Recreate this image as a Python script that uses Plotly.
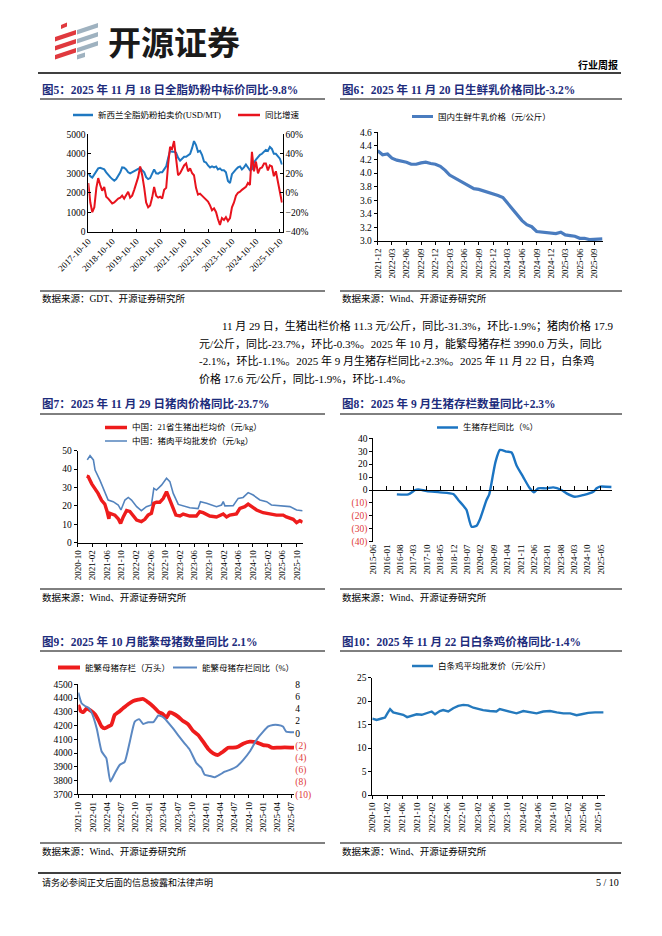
import plotly.graph_objects as go
import pandas as pd

W, H = 662, 936
def px(x): return x / W
def py(y): return 1 - y / H

SERIF = "Liberation Serif, Noto Sans CJK SC"
CJK = "Noto Sans CJK SC, Liberation Serif"
NAVY = "#1d2c7c"
NEG = "#e03a3a"

# ---------------- Figure 5 data: GDT whole milk powder ----------------
f5_dates = pd.date_range("2017-10-01", periods=98, freq="MS") + pd.Timedelta(days=9)
f5_price = [3000,2850,2780,2950,3150,3250,3280,3250,3200,3050,
            2950,2800,2700,2620,2700,2850,3050,3300,3280,3200,
            3050,3000,3050,3100,3150,3200,3280,3150,3050,2800,
            2700,2750,2950,3200,3000,2980,3050,3050,3200,3350,
            3800,4150,4100,4100,4050,3800,3650,3750,3850,3850,
            3950,4000,4300,4650,4450,4100,4150,3950,3600,3550,
            3400,3300,3350,3300,3350,3200,3250,3150,3150,3050,
            2600,2500,2950,3100,3200,3300,3350,3200,3300,3450,
            3300,3150,3200,3550,3700,3850,3950,4000,4100,4200,
            4150,4350,4250,4000,4000,3900,3750,3450]
f5_yoy = [10,-10,-20,-15,5,15,8,2,6,-4,
          -6,-8,-11,-10,-8,-6,-5,-3,-6,-2,
          1,-5,-3,3,10,16,27,18,5,-10,
          -15,-13,-5,6,-3,-5,-4,-6,3,5,
          30,47,45,53,35,18,20,25,28,30,
          22,25,20,18,5,-2,-1,-3,-5,-6,
          -9,-13,-18,-16,-20,-27,-33,-26,-28,-25,
          -29,-26,-15,-10,-3,0,1,3,5,6,
          10,8,42,22,32,20,25,26,30,30,
          23,28,27,17,22,10,-2,-10]

# ---------------- Figure 6 data: raw milk price ----------------
f6_dates = list(pd.date_range("2021-12-01", "2025-10-01", freq="MS").strftime("%Y-%m-%d")) + ["2025-10-22"]
f6_milk = [4.33,
           4.27,4.28,4.22,4.19,4.18,4.16,4.13,4.13,4.15,4.16,4.14,4.13,
           4.10,4.04,3.97,3.93,3.88,3.85,3.80,3.77,3.76,3.74,3.72,3.69,
           3.67,3.64,3.56,3.46,3.38,3.30,3.24,3.21,3.14,3.13,3.12,3.11,
           3.11,3.13,3.09,3.08,3.07,3.04,3.04,3.02,3.02,3.03,
           3.03]

# ---------------- Figure 7 data: hog & pork prices ----------------
f7_hog_dates = ["2020-12-15","2020-12-28","2021-01-26","2021-02-23","2021-03-20","2021-04-18","2021-05-15",
                "2021-06-04","2021-06-18","2021-06-26","2021-08-07","2021-09-04","2021-09-24","2021-10-16",
                "2021-11-13","2021-12-10","2022-01-08","2022-02-05","2022-03-16","2022-04-14","2022-05-11",
                "2022-06-08","2022-06-28","2022-07-20","2022-08-17","2022-09-14","2022-10-12","2022-11-09",
                "2022-12-07","2022-12-29","2023-02-01","2023-02-28","2023-04-24","2023-06-18","2023-07-16",
                "2023-08-13","2023-10-08","2023-12-03","2024-01-28","2024-02-25","2024-03-23","2024-05-17",
                "2024-06-15","2024-07-26","2024-08-23","2024-09-20","2024-11-01","2024-12-26","2025-02-21",
                "2025-04-16","2025-06-11","2025-07-08","2025-09-03","2025-10-01","2025-10-28","2025-11-20"]
f7_hog = [36.2,35.9,32.0,29.5,26.8,23.0,21.0,
          16.8,13.0,16.0,15.0,13.0,10.5,14.0,
          17.5,17.0,14.5,12.3,11.4,12.7,15.0,
          16.0,21.4,22.0,22.0,24.0,27.7,23.0,
          17.8,15.0,14.5,15.6,14.5,14.5,16.8,
          16.3,14.5,14.0,15.6,14.0,15.0,15.6,
          18.7,19.6,21.0,19.6,17.8,16.3,15.6,
          15.0,15.0,14.0,12.7,10.9,12.0,11.1]
f7_pork_dates = ["2020-12-20","2021-01-12","2021-02-09","2021-02-23","2021-04-04","2021-05-15","2021-06-12",
                 "2021-07-24","2021-09-04","2021-09-27","2021-10-30","2021-11-27","2021-12-24","2022-02-05",
                 "2022-03-16","2022-04-27","2022-06-08","2022-06-28","2022-07-20","2022-08-31","2022-10-12",
                 "2022-11-09","2022-12-07","2023-01-18","2023-02-28","2023-04-24","2023-07-02","2023-07-22",
                 "2023-09-11","2023-12-03","2024-01-14","2024-01-28","2024-02-11","2024-04-20","2024-06-01",
                 "2024-07-12","2024-08-23","2024-10-04","2024-11-29","2025-01-24","2025-03-05","2025-06-11",
                 "2025-08-06","2025-10-01","2025-11-20"]
f7_pork = [45.0,47.3,45.0,39.5,34.0,27.7,23.2,
           22.3,20.5,17.8,23.2,24.6,23.2,19.6,
           17.4,19.6,20.5,29.5,28.6,31.3,35.0,
           33.2,26.8,20.8,20.1,19.0,18.5,22.3,
           21.4,19.6,20.5,22.3,20.0,20.1,24.1,
           24.6,27.2,25.9,23.2,22.3,20.5,20.0,
           19.6,17.8,17.4]

# ---------------- Figure 8 data: hog inventory yoy ----------------
f8_dates = ["2016-06-10","2016-12-10","2017-03-28","2017-05-15","2017-09-27","2018-04-25","2018-11-25",
            "2019-02-12","2019-05-01","2019-06-24","2019-09-12","2019-12-01","2020-01-20","2020-05-07",
            "2020-06-19","2020-08-22","2020-09-28","2020-12-07","2021-03-25","2021-06-10","2021-08-28",
            "2021-12-12","2022-03-27","2022-06-01","2022-08-07","2022-12-18","2023-04-03","2023-08-13",
            "2023-11-01","2024-03-12","2024-07-24","2025-01-01","2025-02-22","2025-04-15","2025-10-18"]
f8_yoy = [-3.4,-3.4,0.0,0.5,-0.8,-1.8,-3.1,
          -7.7,-12.0,-15.5,-28.4,-27.6,-23.0,-7.7,
          -3.4,13.0,22.0,31.0,29.7,29.0,19.0,
          10.0,1.3,-1.8,1.3,1.3,2.0,0.0,
          -2.6,-5.2,-3.9,-1.3,1.3,2.6,2.3]
f8_ticks = [40, 30, 20, 10, 0, -10, -20, -30, -40]
f8_ticktext = ["40", "30", "20", "10", "0",
               f'<span style="color:{NEG}">(10)</span>', f'<span style="color:{NEG}">(20)</span>',
               f'<span style="color:{NEG}">(30)</span>', f'<span style="color:{NEG}">(40)</span>']

# ---------------- Figure 9 data: breeding sows ----------------
f9_sow_dates = ["2021-10-01","2021-10-16","2021-11-02","2021-11-24","2021-12-15","2022-01-17","2022-02-07",
                "2022-02-28","2022-03-20","2022-04-10","2022-05-01","2022-05-23","2022-06-14","2022-07-15",
                "2022-08-17","2022-09-19","2022-10-21","2022-11-22","2022-12-24","2023-01-26","2023-02-27",
                "2023-03-29","2023-04-20","2023-05-11","2023-06-02","2023-07-04","2023-08-05","2023-09-07",
                "2023-10-09","2023-11-10","2023-12-12","2024-01-14","2024-02-15","2024-03-17","2024-04-18",
                "2024-05-20","2024-06-21","2024-07-23","2024-08-25","2024-10-07","2024-11-19","2025-01-01",
                "2025-02-03","2025-02-24","2025-04-06","2025-05-19","2025-07-18"]
f9_sow = [4350,4306,4297,4325,4312,4280,4240,
          4192,4180,4192,4204,4277,4296,4325,
          4355,4379,4388,4393,4369,4338,4301,
          4282,4257,4296,4288,4265,4233,4209,
          4160,4131,4083,4030,3998,3986,4010,
          4039,4039,4046,4068,4083,4078,4058,
          4053,4039,4039,4041,4039]
f9_yoy_dates = ["2021-10-01","2021-10-22","2021-11-13","2021-12-04","2021-12-25","2022-01-27","2022-02-28",
                "2022-03-30","2022-04-25","2022-05-23","2022-06-24","2022-07-26","2022-08-28","2022-09-29",
                "2022-10-27","2022-11-22","2022-12-24","2023-01-26","2023-02-27","2023-03-18","2023-04-09",
                "2023-05-22","2023-07-04","2023-08-16","2023-09-17","2023-10-30","2023-12-01","2023-12-22",
                "2024-01-24","2024-02-25","2024-03-28","2024-04-29","2024-06-01","2024-07-13","2024-08-25",
                "2024-10-07","2024-11-19","2025-01-01","2025-02-03","2025-03-05","2025-04-06","2025-05-08",
                "2025-05-29","2025-07-18"]
f9_yoy = [6.64,4.9,4.45,4.2,3.4,0.8,-3.0,
          -4.1,-7.9,-6.6,-5.2,-4.7,-1.4,1.9,
          2.3,1.5,1.8,1.8,2.9,2.8,2.4,
          1.1,-0.3,-1.7,-2.7,-4.9,-5.7,-6.8,
          -7.0,-7.2,-6.8,-6.3,-6.0,-5.5,-4.4,
          -3.0,-1.1,0.25,1.1,1.35,1.35,1.1,
          0.25,0.15]
f9_rticks = [8, 6, 4, 2, 0, -2, -4, -6, -8, -10]
f9_rtext = ["8", "6", "4", "2", "0"] + [f'<span style="color:{NEG}">({abs(v)})</span>' for v in f9_rticks[5:]]

# ---------------- Figure 10 data: white-strip chicken ----------------
f10_dates = ["2020-10-01","2020-11-05","2020-12-15","2021-01-12","2021-01-31","2021-02-22","2021-03-19",
             "2021-04-29","2021-06-08","2021-07-10","2021-08-15","2021-09-25","2021-11-05","2021-12-15",
             "2022-01-25","2022-02-21","2022-04-01","2022-04-28","2022-06-08","2022-07-18","2022-08-28",
             "2022-10-08","2022-11-17","2022-12-28","2023-02-07","2023-03-17","2023-05-10","2023-07-03",
             "2023-07-30","2023-09-10","2023-11-03","2023-12-13","2024-02-06","2024-03-30","2024-05-23",
             "2024-07-16","2024-09-09","2024-11-02","2024-12-26","2025-02-19","2025-04-12","2025-05-22",
             "2025-07-15","2025-09-08","2025-11-15"]
f10_chicken = [16.3,16.0,16.3,16.5,17.4,18.3,17.6,
               17.3,17.1,16.6,16.9,17.2,17.1,17.5,
               17.8,17.2,17.9,18.1,17.8,18.5,19.0,
               19.2,19.1,18.6,18.3,18.1,17.9,17.8,
               18.3,18.0,17.6,17.4,17.9,17.6,17.4,
               17.8,17.9,17.6,17.4,17.4,17.0,17.2,
               17.5,17.6,17.6]

# ---------------- colours ----------------
C5_BLUE, C5_RED = "#1f78c1", "#e8131d"
C6_BLUE = "#4a7cbf"
C7_RED, C7_BLUE = "#ee1c1c", "#5383bd"
C8_BLUE = "#1b74c2"
C9_RED, C9_BLUE = "#ee1c1c", "#5b88c2"
C10_BLUE = "#2479bd"

fig = go.Figure()
fig.add_trace(go.Scatter(x=f5_dates, y=f5_price, xaxis="x", yaxis="y", mode="lines",
                         line=dict(color=C5_BLUE, width=2)))
fig.add_trace(go.Scatter(x=f5_dates, y=f5_yoy, xaxis="x", yaxis="y2", mode="lines",
                         line=dict(color=C5_RED, width=2)))
fig.add_trace(go.Scatter(x=f6_dates, y=f6_milk, xaxis="x2", yaxis="y3", mode="lines",
                         line=dict(color=C6_BLUE, width=3.2)))
fig.add_trace(go.Scatter(x=f7_pork_dates, y=f7_pork, xaxis="x3", yaxis="y4", mode="lines",
                         line=dict(color=C7_BLUE, width=1.6)))
fig.add_trace(go.Scatter(x=f7_hog_dates, y=f7_hog, xaxis="x3", yaxis="y4", mode="lines",
                         line=dict(color=C7_RED, width=3.4)))
fig.add_trace(go.Scatter(x=f8_dates, y=f8_yoy, xaxis="x4", yaxis="y5", mode="lines",
                         line=dict(color=C8_BLUE, width=2.4, shape="spline", smoothing=0.6)))
fig.add_trace(go.Scatter(x=[f8_dates[0]], y=[0], xaxis="x5", yaxis="y5", mode="lines",
                         line=dict(width=0), hoverinfo="skip"))
fig.add_trace(go.Scatter(x=f9_sow_dates, y=f9_sow, xaxis="x6", yaxis="y6", mode="lines",
                         line=dict(color=C9_RED, width=3.8, shape="spline", smoothing=0.5)))
fig.add_trace(go.Scatter(x=f9_yoy_dates, y=f9_yoy, xaxis="x6", yaxis="y7", mode="lines",
                         line=dict(color=C9_BLUE, width=2, shape="spline", smoothing=0.5)))
fig.add_trace(go.Scatter(x=f10_dates, y=f10_chicken, xaxis="x7", yaxis="y8", mode="lines",
                         line=dict(color=C10_BLUE, width=2.4)))

TICKFONT = dict(family=SERIF, size=9.5, color="black")
XFONT = dict(family=SERIF, size=9, color="black")

def xax(x0, x1, anchor, rng, tick0, dtick, fmt, angle, ticks="outside", **kw):
    d = dict(domain=[px(x0), px(x1)], anchor=anchor, type="date", range=rng, tick0=tick0, dtick=dtick,
             tickformat=fmt, tickangle=angle, showline=True, linecolor="black", linewidth=1,
             ticks=ticks, ticklen=3, tickcolor="black", showgrid=False, zeroline=False, tickfont=XFONT,
             fixedrange=True, automargin=False)
    d.update(kw)
    return d

def yax(top, bottom, anchor, rng, dtick, ticks="outside", **kw):
    d = dict(domain=[py(bottom), py(top)], anchor=anchor, range=rng, dtick=dtick, showline=True,
             linecolor="black", linewidth=1, ticks=ticks, ticklen=3, tickcolor="black",
             showgrid=False, zeroline=False, tickfont=TICKFONT, fixedrange=True, automargin=False)
    d.update(kw)
    return d

axes = {}
# Fig 5
axes["xaxis"] = xax(88.3, 282.7, "y", ["2017-10-10", "2025-11-22"], "2017-10-10", "M12", "%Y-%m-%d", -45,
                    ticks="inside")
axes["yaxis"] = yax(134.3, 231.7, "x", [0, 5000], 1000, ticks="inside", tickformat="d")
axes["yaxis2"] = yax(134.3, 231.7, "x", [-40, 60], 20, ticks="inside", overlaying="y", side="right",
                     ticksuffix="%")
# Fig 6
axes["xaxis2"] = xax(377.7, 602.7, "y3", ["2021-12-01", "2025-10-24"], "2021-12-01", "M3", "%Y-%m", -90)
axes["yaxis3"] = yax(132.3, 241.0, "x2", [3.0, 4.6], 0.2, tickformat=".1f")
# Fig 7
axes["xaxis3"] = xax(77.7, 302.7, "y4", ["2020-10-01", "2025-11-21"], "2020-10-01", "M4", "%Y-%m", -90)
axes["yaxis4"] = yax(450.7, 542.7, "x3", [0, 50], 10)
# Fig 8
axes["xaxis4"] = xax(373.3, 611.7, "y5", ["2015-06-01", "2025-10-20"], "2015-06-01", "M7", "%Y-%m", -90,
                     ticks="", showline=False)
axes["xaxis5"] = xax(373.3, 611.7, "free", ["2015-06-01", "2025-10-20"], "2015-06-01", "M7", "%Y-%m", -90,
                     ticks="inside", ticklen=4, showticklabels=False, overlaying="x4",
                     position=(py(438.3) + py(541.7)) / 2)
axes["yaxis5"] = yax(438.3, 541.7, "x4", [-40, 40], 10, tickmode="array", tickvals=f8_ticks,
                     ticktext=f8_ticktext)
# Fig 9
axes["xaxis6"] = xax(78.3, 294.3, "y6", ["2021-10-01", "2025-07-20"], "2021-10-01", "M3", "%Y-%m", -90)
axes["yaxis6"] = yax(684.3, 794.3, "x6", [3700, 4500], 100, tickformat="d")
axes["yaxis7"] = yax(684.3, 794.3, "x6", [-10, 8], 2, overlaying="y6", side="right", showline=False,
                     ticks="", tickmode="array", tickvals=f9_rticks, ticktext=f9_rtext)
# Fig 10
axes["xaxis7"] = xax(372.3, 605.0, "y8", ["2020-10-01", "2025-11-28"], "2020-10-01", "M4", "%Y-%m", -90)
axes["yaxis8"] = yax(677.7, 795.0, "x7", [0, 25], 5)

shapes, ann = [], []

def hline(x0, x1, y, color="black", width=1):
    shapes.append(dict(type="line", xref="paper", yref="paper", x0=px(x0), x1=px(x1),
                       y0=py(y), y1=py(y), line=dict(color=color, width=width)))

def txt(x, y, s, size, color="black", anchor="left", family=SERIF):
    ann.append(dict(x=px(x), y=py(y), xref="paper", yref="paper", text=s, showarrow=False,
                    xanchor=anchor, yanchor="middle", font=dict(family=family, size=size, color=color)))

def poly(points, color):
    p = "M " + " L ".join(f"{px(a):.5f},{py(b):.5f}" for a, b in points) + " Z"
    shapes.append(dict(type="path", xref="paper", yref="paper", path=p, fillcolor=color,
                       line=dict(width=0)))

# header
RED, GRAY = "#e0393e", "#9fb2c0"
poly([(61, 25), (67, 22.5), (67, 26.5), (61, 29)], RED)
poly([(55, 37), (76, 30), (76, 34.5), (55, 41.5)], RED)
poly([(55, 46), (76, 39), (76, 43.5), (55, 50.5)], RED)
poly([(55, 55), (76, 48), (76, 52.5), (55, 59.5)], RED)
poly([(77, 30), (98, 23), (98, 27.5), (77, 34.5)], GRAY)
poly([(77, 39), (98, 32), (98, 36.5), (77, 43.5)], GRAY)
poly([(77, 48), (98, 41), (98, 45.5), (77, 52.5)], GRAY)
poly([(77, 55), (85, 52.5), (85, 57), (77, 59.5)], GRAY)
txt(106, 41, "<b>开源证券</b>", 33, color="#1a1a1a", family=CJK)
txt(620, 65, "<b>行业周报</b>", 10, family=CJK, anchor="right")
hline(38, 621, 73, width=1.3)

# footer
hline(38, 621, 873, width=1.3)
txt(40, 882, "请务必参阅正文后面的信息披露和法律声明", 9, family=SERIF)
txt(621, 882, "5 / 10", 10, anchor="right")

# titles / rules / sources
titles = [
    (40, 90, "图5：2025 年 11 月 18 日全脂奶粉中标价同比-9.8%"),
    (340, 90, "图6：2025 年 11 月 20 日生鲜乳价格同比-3.2%"),
    (40, 403, "图7：2025 年 11 月 29 日猪肉价格同比-23.7%"),
    (340, 403, "图8：2025 年 9 月生猪存栏数量同比+2.3%"),
    (40, 641, "图9：2025 年 10 月能繁母猪数量同比 2.1%"),
    (340, 641, "图10：2025 年 11 月 22 日白条鸡价格同比-1.4%"),
]
for x, y, s in titles:
    txt(x, y, f"<b>{s}</b>", 11.5, color=NAVY)
for y in (99, 414, 651):
    hline(40, 325, y)
    hline(340, 622, y)
for y in (291, 589, 843):
    hline(40, 325, y)
    hline(340, 622, y)
txt(40, 298, "数据来源：GDT、开源证券研究所", 9.5)
txt(340, 298, "数据来源：Wind、开源证券研究所", 9.5)
for y in (597, 851):
    txt(40, y, "数据来源：Wind、开源证券研究所", 9.5)
    txt(340, y, "数据来源：Wind、开源证券研究所", 9.5)

# paragraph
para = [
    (220, 325, "11 月 29 日，生猪出栏价格 11.3 元/公斤，同比-31.3%，环比-1.9%；猪肉价格 17.9"),
    (197, 343, "元/公斤，同比-23.7%，环比-0.3%。2025 年 10 月，能繁母猪存栏 3990.0 万头，同比"),
    (197, 361, "-2.1%，环比-1.1%。2025 年 9 月生猪存栏同比+2.3%。2025 年 11 月 22 日，白条鸡"),
    (197, 378, "价格 17.6 元/公斤，同比-1.9%，环比-1.4%。"),
]
for x, y, s in para:
    txt(x, y, s, 11)

# legends (manual)
def leg(x0, x1, y, color, width, label):
    hline(x0, x1, y, color=color, width=width)
    txt(x1 + 3, y, label, 8.5)

leg(73, 93, 115, C5_BLUE, 2.5, "新西兰全脂奶粉拍卖价(USD/MT)")
leg(238, 260, 115, C5_RED, 2.5, "同比增速")
leg(412, 433, 116.5, C6_BLUE, 3, "国内生鲜牛乳价格（元/公斤）")
leg(105, 127, 427.5, C7_RED, 3.5, "中国：21省生猪出栏均价（元/kg）")
leg(105, 127, 441, C7_BLUE, 1.5, "中国：猪肉平均批发价（元/kg）")
leg(437, 458, 427.5, C8_BLUE, 2.5, "生猪存栏同比（%）")
leg(58, 80, 667.5, C9_RED, 4, "能繁母猪存栏（万头）")
leg(173, 197, 667.5, C9_BLUE, 2, "能繁母猪存栏同比（%）")
leg(412, 433, 666, C10_BLUE, 2.5, "白条鸡平均批发价（元/公斤）")

fig.update_layout(template="none", width=W, height=H, margin=dict(l=0, r=0, t=0, b=0, pad=0),
                  autosize=False, paper_bgcolor="white", plot_bgcolor="white", showlegend=False,
                  hovermode=False, shapes=shapes, annotations=ann, **axes)
fig.write_html("out.html", config={"displayModeBar": False, "staticPlot": True},
               post_script="document.body.style.margin='0';document.body.style.overflow='hidden';")
